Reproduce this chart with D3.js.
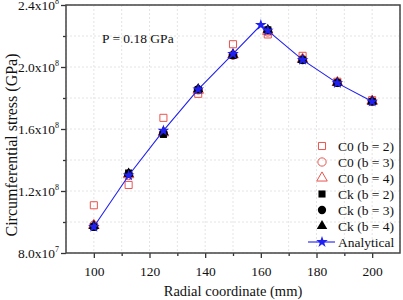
<!DOCTYPE html>
<html>
<head>
<meta charset="utf-8">
<script src="https://cdn.jsdelivr.net/npm/d3@7"></script>
<style>
  body { margin: 0; background: #fff; }
  text { font-family: "Liberation Serif", "Times New Roman", serif; fill: #111; }
</style>
</head>
<body>
<script>
// radial positions of the sampled points (mm)
var radius = [100, 112.5, 125, 137.5, 150, 162.5, 175, 187.5, 200];

var c0b2 = [1.108e8, 1.239e8, 1.672e8, 1.827e8, 2.147e8, 2.21e8, 2.072e8, 1.905e8, 1.786e8];
var c0b3 = [9.8e7, 1.30e8, 1.572e8, 1.852e8, 2.076e8, 2.226e8, 2.05e8, 1.90e8, 1.78e8];
var c0b4 = [9.78e7, 1.305e8, 1.575e8, 1.850e8, 2.078e8, 2.23e8, 2.05e8, 1.90e8, 1.78e8];
var ckb2 = [9.7e7, 1.316e8, 1.565e8, 1.855e8, 2.075e8, 2.24e8, 2.045e8, 1.897e8, 1.777e8];
var ckb3 = [9.68e7, 1.31e8, 1.575e8, 1.855e8, 2.077e8, 2.238e8, 2.045e8, 1.897e8, 1.777e8];
var ckb4 = [9.75e7, 1.312e8, 1.58e8, 1.857e8, 2.08e8, 2.24e8, 2.046e8, 1.898e8, 1.778e8];

// analytical curve has an extra point at the peak (r = 160)
var anaR = [100, 112.5, 125, 137.5, 150, 160, 162.5, 175, 187.5, 200];
var anaS = [9.69e7, 1.30e8, 1.589e8, 1.855e8, 2.084e8, 2.271e8, 2.235e8, 2.046e8, 1.896e8, 1.777e8];

var xTicks = [100, 120, 140, 160, 180, 200];
var yTicks = [8.0e7, 1.2e8, 1.6e8, 2.0e8, 2.4e8];
var yLabels = ["8.0x10", "1.2x10", "1.6x10", "2.0x10", "2.4x10"];
var yExp = ["7", "8", "8", "8", "8"];

var seriesNames = ["C0 (b = 2)", "C0 (b = 3)", "C0 (b = 4)", "Ck (b = 2)", "Ck (b = 3)", "Ck (b = 4)", "Analytical"];

var W = 403, H = 300;
var margin = { top: 5, right: 3, bottom: 47, left: 66 };
var w = W - margin.left - margin.right,
    h = H - margin.top - margin.bottom;

var svg = d3.select("body").append("svg")
  .attr("width", W).attr("height", H);
var g = svg.append("g")
  .attr("transform", "translate(" + margin.left + "," + margin.top + ")");

var xScale = d3.scaleLinear().domain([90, 210]).range([0, w]);
var yScale = d3.scaleLinear().domain([8e7, 2.4e8]).range([h, 0]);

// grid
var gridX = d3.range(90, 211, 10), gridY = d3.range(8e7, 2.41e8, 2e7);
g.selectAll(".gx").data(gridX).enter().append("line")
  .attr("x1", d => xScale(d)).attr("x2", d => xScale(d))
  .attr("y1", 0).attr("y2", h)
  .attr("stroke", "#e4e4e4").attr("stroke-dasharray", "2,2");
g.selectAll(".gy").data(gridY).enter().append("line")
  .attr("y1", d => yScale(d)).attr("y2", d => yScale(d))
  .attr("x1", 0).attr("x2", w)
  .attr("stroke", "#e4e4e4").attr("stroke-dasharray", "2,2");

// axes
var xAxis = d3.axisBottom(xScale).tickValues(xTicks).tickSize(5).tickFormat(d3.format("d"));
var xMinor = d3.axisBottom(xScale).tickValues(d3.range(110, 210, 20)).tickSize(3).tickFormat("");
var yAxis = d3.axisLeft(yScale).tickValues(yTicks).tickSize(5).tickFormat("");
var yMinor = d3.axisLeft(yScale).tickValues(d3.range(1e8, 2.4e8, 4e7)).tickSize(3).tickFormat("");

function styleAxis(sel) {
  sel.select(".domain").remove();
  sel.selectAll("line").attr("stroke", "#333").attr("stroke-width", 1.3);
  sel.selectAll("text").style("font-family", "Liberation Serif").style("font-size", "13.5px").attr("fill", "#111");
}
g.append("g").attr("transform", "translate(0," + h + ")").call(xAxis).call(styleAxis)
  .selectAll("text").attr("dy", "1.1em");
g.append("g").attr("transform", "translate(0," + h + ")").call(xMinor).call(styleAxis);
g.append("g").call(yAxis).call(styleAxis);
g.append("g").call(yMinor).call(styleAxis);

// y tick labels with exponent
var yl = g.selectAll(".ylab").data(yTicks).enter().append("text")
  .attr("x", -7).attr("y", d => yScale(d) + 5)
  .attr("text-anchor", "end")
  .style("font-size", "13.5px");
yl.append("tspan").text((d, i) => yLabels[i]);
yl.append("tspan").attr("dy", -6).style("font-size", "8px").text((d, i) => yExp[i]);

// frame
g.append("rect").attr("width", w).attr("height", h)
  .attr("fill", "none").attr("stroke", "#444").attr("stroke-width", 1.5);

// axis titles
svg.append("text")
  .attr("x", margin.left + xScale(150)).attr("y", 296)
  .attr("text-anchor", "middle").style("font-size", "14.5px")
  .text("Radial coordinate (mm)");
svg.append("text")
  .attr("transform", "translate(17," + (margin.top + h / 2 + 16) + ") rotate(-90)")
  .attr("text-anchor", "middle").style("font-size", "16px")
  .text("Circumferential stress (GPa)");

g.append("text").attr("x", 36).attr("y", 38).style("font-size", "13.5px").text("P = 0.18 GPa");

var red = "#e8554f", blue = "#2020f0";
var sym = {
  square: d3.symbol().type(d3.symbolSquare).size(50),
  circle: d3.symbol().type(d3.symbolCircle).size(54),
  triangle: d3.symbol().type(d3.symbolTriangle).size(48),
  star: d3.symbol().type(d3.symbolStar).size(42)
};

var series = [
  { vals: c0b2, shape: "square", fill: "none", stroke: red },
  { vals: c0b3, shape: "circle", fill: "none", stroke: red },
  { vals: c0b4, shape: "triangle", fill: "none", stroke: red },
  { vals: ckb2, shape: "square", fill: "#000", stroke: "none" },
  { vals: ckb3, shape: "circle", fill: "#000", stroke: "none" },
  { vals: ckb4, shape: "triangle", fill: "#000", stroke: "none" }
];

series.forEach(function (s) {
  g.selectAll(null).data(s.vals).enter().append("path")
    .attr("d", sym[s.shape])
    .attr("transform", (d, i) => "translate(" + xScale(radius[i]) + "," + yScale(d) + ")")
    .attr("fill", s.fill).attr("stroke", s.stroke).attr("stroke-width", 1);
});

var line = d3.line().x((d, i) => xScale(anaR[i])).y(d => yScale(d));
g.append("path").datum(anaS).attr("d", line)
  .attr("fill", "none").attr("stroke", blue).attr("stroke-width", 1.1);
g.selectAll(".star").data(anaS).enter().append("path")
  .attr("d", sym.star)
  .attr("transform", (d, i) => "translate(" + xScale(anaR[i]) + "," + yScale(d) + ")")
  .attr("fill", blue);

// legend
var lg = svg.append("g").attr("transform", "translate(322,146)");
var legendItems = series.concat([{ shape: "star", fill: blue, stroke: "none", line: true }]);
legendItems.forEach(function (s, i) {
  var row = lg.append("g").attr("transform", "translate(0," + i * 16 + ")");
  if (s.line) {
    row.append("line").attr("x1", -14).attr("x2", 13).attr("stroke", blue).attr("stroke-width", 1.1);
  }
  row.append("path").attr("d", sym[s.shape])
    .attr("fill", s.fill).attr("stroke", s.stroke).attr("stroke-width", 1);
  row.append("text").attr("x", 16).attr("y", 5).style("font-size", "13.5px").text(seriesNames[i]);
});
</script>
</body>
</html>
